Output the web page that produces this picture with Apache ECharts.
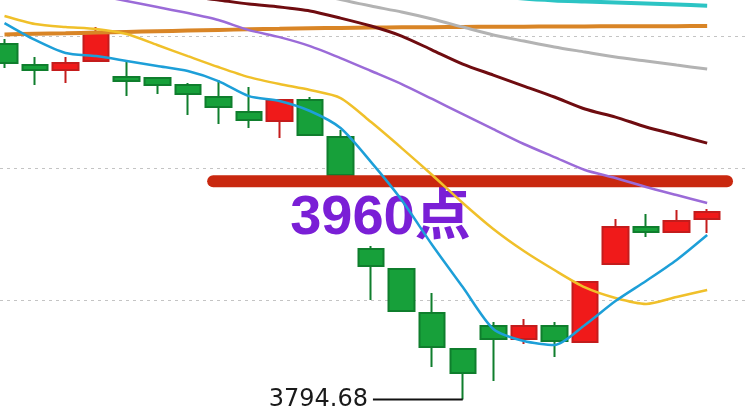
<!DOCTYPE html>
<html><head><meta charset="utf-8">
<script src="https://cdn.jsdelivr.net/npm/echarts@6/dist/echarts.min.js"></script>
<style>html,body{margin:0;padding:0;background:#fff;overflow:hidden}#c{width:748px;height:406px}</style>
</head><body><div id="c"></div><script>
// ---- data ----
const categories = ['1','2','3','4','5','6','7','8','9','10','11','12','13','14','15','16','17','18','19','20','21','22','23','24'];
const opens  = [4063.9, 4048.0, 4044.2, 4051.1, 4038.9, 4038.2, 4032.9, 4023.8, 4012.4, 4005.6, 4021.5, 3993.5, 3908.6, 3893.5, 3860.1, 3832.9, 3850.3, 3840.4, 3850.3, 3838.2, 3897.3, 3925.3, 3921.5, 3931.4];
const closes = [4049.5, 4044.2, 4049.5, 4073.0, 4035.9, 4032.9, 4026.1, 4016.2, 4006.4, 4021.5, 3995.0, 3964.7, 3895.8, 3861.7, 3834.4, 3814.7, 3840.4, 3850.3, 3838.9, 3883.6, 3925.3, 3921.5, 3929.8, 3936.7];
const lows   = [4045.8, 4032.9, 4034.4, 4050.3, 4024.5, 4026.1, 4010.2, 4003.3, 4000.3, 3992.7, 3994.2, 3963.9, 3870.0, 3860.9, 3819.2, 3794.68, 3808.6, 3836.7, 3826.8, 3837.4, 3896.5, 3917.7, 3921.5, 3920.8];
const highs  = [4067.7, 4054.1, 4054.1, 4076.8, 4051.8, 4038.9, 4034.4, 4036.7, 4031.4, 4022.3, 4023.8, 3998.8, 3910.9, 3894.2, 3875.3, 3833.5, 3853.3, 3855.6, 3853.3, 3884.4, 3931.4, 3935.1, 3938.2, 3938.9];

const ma5   = [4079.8, 4067.0, 4057.1, 4054.8, 4051.1, 4047.3, 4043.5, 4035.9, 4024.5, 4020.8, 4013.2, 4000.3, 3974.5, 3945.8, 3911.7, 3879.8, 3848.0, 3838.9, 3835.9, 3851.1, 3869.2, 3884.4, 3900.3, 3919.2];
const ma10  = [4085.2, 4079.1, 4076.8, 4075.3, 4071.5, 4063.2, 4054.8, 4046.5, 4038.9, 4033.6, 4029.1, 4023.0, 4004.8, 3985.1, 3964.7, 3943.5, 3923.8, 3907.1, 3892.7, 3879.5, 3871.5, 3867.0, 3872.3, 3877.6];
const ma20  = [4114.7, 4110.2, 4105.6, 4101.1, 4096.5, 4092.0, 4087.4, 4082.1, 4074.5, 4069.2, 4062.4, 4053.3, 4043.5, 4033.6, 4022.3, 4010.9, 3999.5, 3988.2, 3978.3, 3968.5, 3962.4, 3955.6, 3949.5, 3943.5];
const ma30  = [4120.0, 4117.0, 4114.0, 4110.9, 4107.9, 4104.1, 4100.3, 4097.3, 4094.2, 4092.0, 4089.0, 4083.6, 4077.6, 4070.0, 4059.4, 4048.8, 4040.4, 4032.1, 4023.8, 4014.7, 4008.6, 4001.1, 3995.0, 3988.9];
const ma60  = [4156.0, 4150.5, 4145.0, 4139.5, 4134.0, 4128.5, 4123.5, 4118.2, 4113.0, 4108.4, 4103.2, 4097.6, 4092.7, 4088.2, 4082.9, 4076.8, 4070.8, 4066.2, 4061.7, 4057.9, 4054.1, 4051.1, 4048.0, 4045.0];
const ma120 = [4071.2, 4071.7, 4072.1, 4072.6, 4073.1, 4073.6, 4074.1, 4074.6, 4075.1, 4075.5, 4075.9, 4076.1, 4076.4, 4076.6, 4076.7, 4076.9, 4077.0, 4077.1, 4077.2, 4077.3, 4077.4, 4077.4, 4077.5, 4077.6];
const ma250 = [4120.0, 4119.0, 4118.0, 4117.0, 4116.0, 4115.0, 4114.0, 4113.0, 4112.0, 4111.0, 4110.0, 4109.0, 4108.0, 4107.0, 4106.0, 4104.5, 4101.0, 4098.4, 4097.0, 4096.2, 4095.4, 4094.6, 4093.8, 4093.0];

const gridLevels = [3870, 3970, 4070];
const supportLevel = 3960;
const supportText = '3960点';
const lowValue = 3794.68;
const lowText = '3794.68';
const supportSpan = [6.83, 23.65];   // in candle-index units
const lowSpan = [12.06, 15];
const supportTextAnchor = [9.35, 3931.4];

// ---- chart ----
const chart = echarts.init(document.getElementById('c'), null, {renderer: 'canvas'});

const idx = categories.map((c, i) => i);

function maSeries(name, data, color, width) {
  return {
    name, type: 'line', data: data.map((v, i) => [idx[i], v]),
    showSymbol: false, symbol: 'none', smooth: 0.25, z: 4,
    lineStyle: {color, width}, silent: true
  };
}

const option = {
  animation: false,
  backgroundColor: '#ffffff',
  grid: {left: 0, right: 0, top: 0, bottom: 0, containLabel: false},
  xAxis: {type: 'value', min: -0.1473, max: 24.337, show: false, splitLine: {show: false}},
  yAxis: {type: 'value', min: 3789.7, max: 4097.3, show: false, splitLine: {show: false}},
  series: [
    {
      name: 'grid', type: 'line', data: [], z: 0, silent: true,
      markLine: {
        z: 0, silent: true, symbol: ['none', 'none'], label: {show: false},
        lineStyle: {color: '#c4c4c4', width: 1, type: [3, 4]},
        data: gridLevels.map(v => ({yAxis: v}))
      }
    },
    {
      name: 'K', type: 'candlestick', z: 2, barWidth: 26, layout: 'horizontal',
      encode: {x: 0, y: [1, 2, 3, 4]},
      data: idx.map(i => [i, opens[i], closes[i], lows[i], highs[i]]),
      itemStyle: {
        color: '#f01a1a', color0: '#17a03a',
        borderColor: '#c41c1c', borderColor0: '#0f7e2d', borderWidth: 2
      }
    },
    {
      name: 'support', type: 'line', z: 3, silent: true,
      data: supportSpan.map(x => [x, supportLevel]),
      showSymbol: false, symbol: 'none',
      lineStyle: {color: '#c9280f', width: 12, cap: 'round'},
      markPoint: {
        z: 3, silent: true, symbol: 'circle', symbolSize: 0,
        data: [{
          coord: supportTextAnchor,
          label: {
            show: true, formatter: supportText, position: [0, 0],
            align: 'left', verticalAlign: 'middle',
            color: '#7a1fd6', fontSize: 56, fontWeight: 'bold',
            fontFamily: '"Liberation Sans", "Noto Sans CJK SC", sans-serif'
          }
        }]
      }
    },
    maSeries('MA250', ma250, '#2cc4c4', 4),
    maSeries('MA120', ma120, '#d98526', 4),
    maSeries('MA60', ma60, '#b3b3b3', 3),
    maSeries('MA30', ma30, '#6f0c10', 3),
    maSeries('MA20', ma20, '#9b6bd8', 2.5),
    maSeries('MA10', ma10, '#f0c02a', 2.5),
    maSeries('MA5', ma5, '#1d9fd8', 2.5),
    {
      name: 'low', type: 'line', z: 4, silent: true,
      data: lowSpan.map((x, i) => ({
        value: [x, lowValue],
        label: i === 0 ? {
          show: true, formatter: lowText, position: 'left', distance: 5,
          color: '#1a1a1a', fontSize: 24, fontFamily: '"DejaVu Sans", sans-serif'
        } : {show: false}
      })),
      symbol: 'circle', symbolSize: 0, showSymbol: true,
      lineStyle: {color: '#111', width: 2}
    }
  ]
};
chart.setOption(option);
</script></body></html>
